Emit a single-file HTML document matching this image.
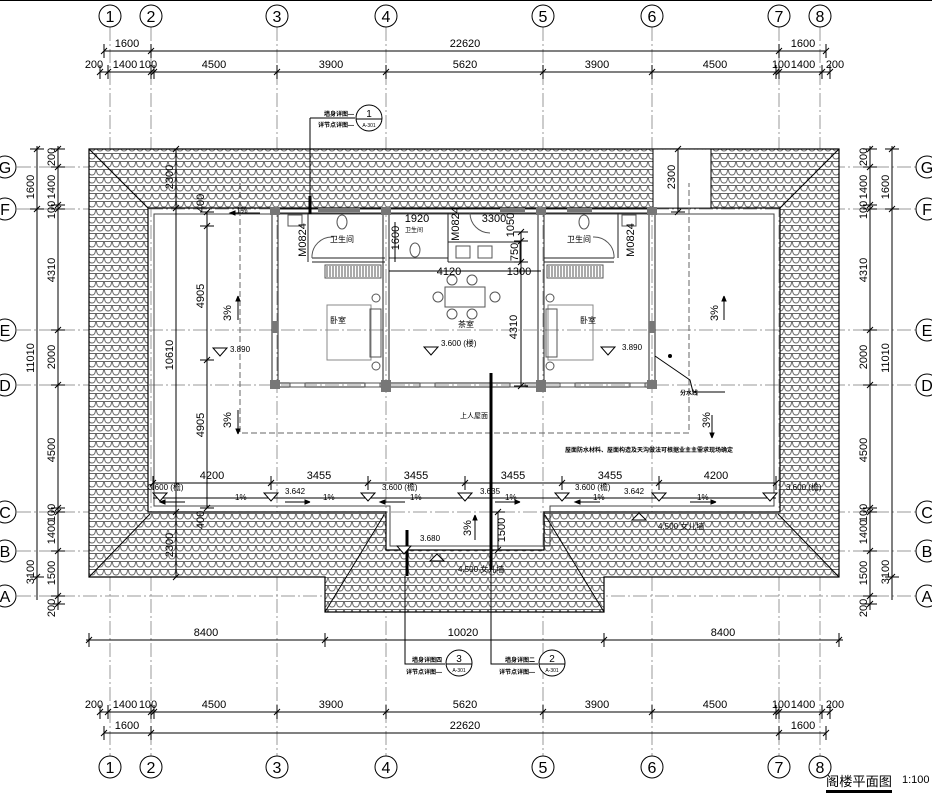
<!DOCTYPE html>
<html><head><meta charset="utf-8"><style>
html,body{margin:0;padding:0;background:#fff;}
svg{display:block;}
text{font-family:"Liberation Sans Narrow","Liberation Sans","Noto Sans CJK SC",sans-serif;fill:#000;}
.d{font-size:11px;}
.s{font-size:8px;}
.c{font-size:6px;font-weight:bold;font-family:"Liberation Sans","Noto Sans CJK SC",sans-serif;}
.g{stroke:#999;stroke-width:1;stroke-dasharray:14 3 2 3;fill:none;}
.k{stroke:#000;stroke-width:1;fill:none;}
.w{stroke:#333;stroke-width:1;fill:none;}
</style></head><body>
<svg id="sv" width="932" height="796" viewBox="0 0 932 796" xmlns="http://www.w3.org/2000/svg">
<defs>
<pattern id="tile" width="8" height="8" patternUnits="userSpaceOnUse">
<rect width="8" height="8" fill="#fff"/>
<path d="M0 1.5 H8 M0.5 1.5 Q0.5 7 4 7 Q7.5 7 7.5 1.5" stroke="#666" stroke-width="0.9" fill="none"/>
</pattern>
</defs>
<rect width="932" height="796" fill="#fff"/>
<line x1="0" y1="0.5" x2="932" y2="0.5" stroke="#000"/>

<g class="g">
<line x1="110" y1="27" x2="110" y2="756"/><line x1="151" y1="27" x2="151" y2="756"/>
<line x1="277" y1="27" x2="277" y2="756"/><line x1="386" y1="27" x2="386" y2="756"/>
<line x1="543" y1="27" x2="543" y2="756"/><line x1="652" y1="27" x2="652" y2="756"/>
<line x1="779" y1="27" x2="779" y2="756"/><line x1="820" y1="27" x2="820" y2="756"/>
<line x1="17" y1="167" x2="916" y2="167"/><line x1="17" y1="209" x2="916" y2="209"/>
<line x1="17" y1="330" x2="916" y2="330"/><line x1="17" y1="385" x2="916" y2="385"/>
<line x1="17" y1="512" x2="916" y2="512"/><line x1="17" y1="551" x2="916" y2="551"/>
<line x1="17" y1="596" x2="916" y2="596"/>
</g>

<path d="M89 149H839V577H604V612H325V577H89Z M148 208V512H386V550H544V512H780V208Z" fill="url(#tile)" fill-rule="evenodd" stroke="#000" stroke-width="1.2"/>
<rect x="653" y="149.6" width="58" height="58" fill="#fff"/>
<line x1="653" y1="149" x2="653" y2="208" stroke="#000"/><line x1="711" y1="149" x2="711" y2="208" stroke="#000"/>
<g class="k">
<line x1="89" y1="149" x2="148" y2="208"/><line x1="839" y1="149" x2="780" y2="208"/>
<line x1="89" y1="577" x2="150" y2="514"/><line x1="839" y1="577" x2="778" y2="514"/>
<line x1="325" y1="612" x2="384" y2="515"/><line x1="604" y1="612" x2="545" y2="515"/>
<path d="M154 214H774V506H550V546H390V506H154Z" stroke="#444"/>
</g>

<path d="M240 183V433H689V183" stroke="#666" stroke-dasharray="6 3" fill="none"/>

<g fill="none" stroke="#222">
<path d="M272 209H655M272 213H655M272 209V387M278 213V383M649 213V383M655 209V387M272 387H655M278 383H649"/>
<path d="M383 213V387M389 213V387M538 213V387M544 213V387"/>
<path d="M308 213V258M312 258H385M312 262H385M308 258V262"/>
<path d="M389 258H448M448 213V262M448 242H520V262H448"/>
<path d="M618 213V258M544 258H614M544 262H614"/>
</g>
<g fill="#777">
<rect x="270" y="207" width="10" height="8"/><rect x="381" y="207" width="10" height="8"/><rect x="536" y="207" width="10" height="8"/><rect x="647" y="207" width="10" height="8"/>
<rect x="270" y="380" width="10" height="9"/><rect x="381" y="380" width="10" height="12"/><rect x="536" y="380" width="10" height="12"/><rect x="647" y="380" width="10" height="9"/>
<rect x="272" y="321" width="6" height="12"/><rect x="649" y="321" width="6" height="12"/>
<rect x="318" y="208" width="22" height="4"/><rect x="335" y="208" width="25" height="4"/><rect x="500" y="208" width="25" height="4"/><rect x="567" y="208" width="25" height="4"/>
</g>
<g fill="#fff" stroke="#555">
<rect x="290" y="383" width="15" height="4"/><rect x="365" y="383" width="15" height="4"/><rect x="420" y="383" width="15" height="4"/><rect x="510" y="383" width="15" height="4"/><rect x="560" y="383" width="15" height="4"/><rect x="630" y="383" width="15" height="4"/>
</g>
<g stroke="#555" fill="none">
<rect x="325" y="265" width="56" height="13"/><rect x="547" y="265" width="56" height="13"/>
<path d="M327 266v11M330 266v11M333 266v11M336 266v11M339 266v11M342 266v11M345 266v11M348 266v11M351 266v11M354 266v11M357 266v11M360 266v11M363 266v11M366 266v11M369 266v11M372 266v11M375 266v11M378 266v11"/>
<path d="M549 266v11M552 266v11M555 266v11M558 266v11M561 266v11M564 266v11M567 266v11M570 266v11M573 266v11M576 266v11M579 266v11M582 266v11M585 266v11M588 266v11M591 266v11M594 266v11M597 266v11M600 266v11"/>
<rect x="327" y="305" width="44" height="55" stroke="#888"/><rect x="548" y="305" width="45" height="55" stroke="#888"/>
<rect x="370" y="309" width="11" height="48"/><rect x="546" y="309" width="11" height="48"/>
<circle cx="376" cy="298" r="4"/><circle cx="376" cy="366" r="4"/><circle cx="550" cy="298" r="4"/><circle cx="550" cy="366" r="4"/>
<rect x="445" y="287" width="40" height="20"/>
<circle cx="452" cy="280" r="5"/><circle cx="472" cy="280" r="5"/><circle cx="452" cy="314" r="5"/><circle cx="472" cy="314" r="5"/><circle cx="438" cy="297" r="5"/><circle cx="495" cy="297" r="5"/>
<rect x="288" y="215" width="14" height="11"/><rect x="622" y="215" width="14" height="11"/>
<ellipse cx="342" cy="222" rx="5" ry="7"/><ellipse cx="584" cy="222" rx="5" ry="7"/><ellipse cx="415" cy="250" rx="5" ry="7"/>
<rect x="456" y="246" width="14" height="12"/><rect x="478" y="246" width="14" height="12"/>
<path d="M312 258A20 20 0 0 1 333 237M614 258A20 20 0 0 0 593 237M470 213A20 20 0 0 0 490 233"/>
</g>

<g stroke="#000" fill="none">
<path d="M310 118H355M310 118V212"/><line x1="310" y1="196" x2="310" y2="214" stroke-width="3"/>
<circle cx="369" cy="118" r="13" fill="#fff"/><line x1="356" y1="119" x2="382" y2="119"/>
<line x1="491" y1="373" x2="491" y2="570" stroke-width="3"/><path d="M491 570V664H538"/>
<line x1="407" y1="530" x2="407" y2="576" stroke-width="3"/><path d="M405 576V664H445"/>
<circle cx="459" cy="663" r="13" fill="#fff"/><line x1="446" y1="664" x2="472" y2="664"/>
<circle cx="552" cy="663" r="13" fill="#fff"/><line x1="539" y1="664" x2="565" y2="664"/>
<path d="M655 356L690 380L693 392H725"/>
</g>
<circle cx="670" cy="356" r="2"/>

<g class="k">
<line x1="153" y1="483" x2="776" y2="483"/><line x1="153" y1="498" x2="776" y2="498"/>
</g>
<g stroke="#000" fill="#fff">
<path d="M153 493h14l-7 8z"/><path d="M264 493h14l-7 8z"/><path d="M361 493h14l-7 8z"/><path d="M458 493h14l-7 8z"/><path d="M555 493h14l-7 8z"/><path d="M652 493h14l-7 8z"/><path d="M763 493h14l-7 8z"/>
<path d="M397 546h14l-7 8z"/><path d="M424 347h14l-7 8z"/><path d="M601 347h14l-7 8z"/><path d="M213 348h14l-7 8z"/>
<path d="M430 561h14l-7 -7z"/><path d="M632 520h14l-7 -7z"/>
</g>

<g class="k" id="dims">
<line x1="104" y1="51" x2="826" y2="51"/><line x1="100" y1="72" x2="830" y2="72"/>
<line x1="104" y1="733" x2="826" y2="733"/><line x1="100" y1="712" x2="830" y2="712"/>
<line x1="86" y1="640" x2="843" y2="640"/>
<line x1="37" y1="146" x2="37" y2="600"/><line x1="58" y1="146" x2="58" y2="610"/>
<line x1="892" y1="146" x2="892" y2="600"/><line x1="870" y1="146" x2="870" y2="610"/>
<line x1="176" y1="149" x2="176" y2="577"/><line x1="678" y1="149" x2="678" y2="212"/>
<line x1="207" y1="212" x2="207" y2="508"/><line x1="521" y1="232" x2="521" y2="386"/>
<line x1="389" y1="271" x2="541" y2="271"/><line x1="395" y1="222" x2="395" y2="262"/>
<line x1="498" y1="512" x2="498" y2="550"/>
</g>

<g fill="#fff" stroke="#000">
<circle cx="110" cy="16" r="11"/><circle cx="151" cy="16" r="11"/><circle cx="277" cy="16" r="11"/><circle cx="386" cy="16" r="11"/><circle cx="543" cy="16" r="11"/><circle cx="652" cy="16" r="11"/><circle cx="779" cy="16" r="11"/><circle cx="820" cy="16" r="11"/>
<circle cx="110" cy="767" r="11"/><circle cx="151" cy="767" r="11"/><circle cx="277" cy="767" r="11"/><circle cx="386" cy="767" r="11"/><circle cx="543" cy="767" r="11"/><circle cx="652" cy="767" r="11"/><circle cx="779" cy="767" r="11"/><circle cx="820" cy="767" r="11"/>
<circle cx="5" cy="167" r="11"/><circle cx="5" cy="209" r="11"/><circle cx="5" cy="330" r="11"/><circle cx="5" cy="385" r="11"/><circle cx="5" cy="512" r="11"/><circle cx="5" cy="551" r="11"/><circle cx="5" cy="596" r="11"/>
<circle cx="927" cy="167" r="11"/><circle cx="927" cy="209" r="11"/><circle cx="927" cy="330" r="11"/><circle cx="927" cy="385" r="11"/><circle cx="927" cy="512" r="11"/><circle cx="927" cy="551" r="11"/><circle cx="927" cy="596" r="11"/>
</g>
<g font-size="16" text-anchor="middle" style="font-family:'Liberation Sans',sans-serif">
<text x="110" y="22">1</text><text x="151" y="22">2</text><text x="277" y="22">3</text><text x="386" y="22">4</text><text x="543" y="22">5</text><text x="652" y="22">6</text><text x="779" y="22">7</text><text x="820" y="22">8</text>
<text x="110" y="773">1</text><text x="151" y="773">2</text><text x="277" y="773">3</text><text x="386" y="773">4</text><text x="543" y="773">5</text><text x="652" y="773">6</text><text x="779" y="773">7</text><text x="820" y="773">8</text>
</g>
<g font-size="16" text-anchor="middle" style="font-family:'Liberation Serif',serif">
<text x="5" y="173">G</text><text x="5" y="215">F</text><text x="5" y="336">E</text><text x="5" y="391">D</text><text x="5" y="518">C</text><text x="5" y="557">B</text><text x="5" y="602">A</text>
<text x="927" y="173">G</text><text x="927" y="215">F</text><text x="927" y="336">E</text><text x="927" y="391">D</text><text x="927" y="518">C</text><text x="927" y="557">B</text><text x="927" y="602">A</text>
</g>

<g class="d" text-anchor="middle">
<text x="127" y="47">1600</text><text x="465" y="47">22620</text><text x="803" y="47">1600</text>
<text x="94" y="68">200</text><text x="125" y="68">1400</text><text x="148" y="68">100</text><text x="214" y="68">4500</text><text x="331" y="68">3900</text><text x="465" y="68">5620</text><text x="597" y="68">3900</text><text x="715" y="68">4500</text><text x="781" y="68">100</text><text x="803" y="68">1400</text><text x="835" y="68">200</text>
<text x="94" y="708">200</text><text x="125" y="708">1400</text><text x="148" y="708">100</text><text x="214" y="708">4500</text><text x="331" y="708">3900</text><text x="465" y="708">5620</text><text x="597" y="708">3900</text><text x="715" y="708">4500</text><text x="781" y="708">100</text><text x="803" y="708">1400</text><text x="835" y="708">200</text>
<text x="127" y="729">1600</text><text x="465" y="729">22620</text><text x="803" y="729">1600</text>
<text x="206" y="636">8400</text><text x="463" y="636">10020</text><text x="723" y="636">8400</text>
<text x="212" y="479">4200</text><text x="319" y="479">3455</text><text x="416" y="479">3455</text><text x="513" y="479">3455</text><text x="610" y="479">3455</text><text x="716" y="479">4200</text>
<text x="417" y="222">1920</text><text x="494" y="222">3300</text><text x="449" y="275">4120</text><text x="519" y="275">1300</text>
</g>
<g class="d" text-anchor="middle">
<text transform="translate(34,187) rotate(-90)">1600</text><text transform="translate(34,358) rotate(-90)">11010</text><text transform="translate(34,572) rotate(-90)">3100</text>
<text transform="translate(55,157) rotate(-90)">200</text><text transform="translate(55,187) rotate(-90)">1400</text><text transform="translate(55,210) rotate(-90)">100</text><text transform="translate(55,270) rotate(-90)">4310</text><text transform="translate(55,357) rotate(-90)">2000</text><text transform="translate(55,450) rotate(-90)">4500</text><text transform="translate(55,513) rotate(-90)">100</text><text transform="translate(55,532) rotate(-90)">1400</text><text transform="translate(55,573) rotate(-90)">1500</text><text transform="translate(55,608) rotate(-90)">200</text>
<text transform="translate(889,187) rotate(-90)">1600</text><text transform="translate(889,358) rotate(-90)">11010</text><text transform="translate(889,572) rotate(-90)">3100</text>
<text transform="translate(867,157) rotate(-90)">200</text><text transform="translate(867,187) rotate(-90)">1400</text><text transform="translate(867,210) rotate(-90)">100</text><text transform="translate(867,270) rotate(-90)">4310</text><text transform="translate(867,357) rotate(-90)">2000</text><text transform="translate(867,450) rotate(-90)">4500</text><text transform="translate(867,513) rotate(-90)">100</text><text transform="translate(867,532) rotate(-90)">1400</text><text transform="translate(867,573) rotate(-90)">1500</text><text transform="translate(867,608) rotate(-90)">200</text>
<text transform="translate(173,177) rotate(-90)">2300</text><text transform="translate(173,355) rotate(-90)">10610</text><text transform="translate(173,545) rotate(-90)">2300</text>
<text transform="translate(204,203) rotate(-90)">400</text><text transform="translate(204,296) rotate(-90)">4905</text><text transform="translate(204,425) rotate(-90)">4905</text><text transform="translate(204,520) rotate(-90)">400</text>
<text transform="translate(675,177) rotate(-90)">2300</text>
<text transform="translate(399,238) rotate(-90)">1600</text><text transform="translate(514,225) rotate(-90)">1050</text><text transform="translate(518,252) rotate(-90)">750</text><text transform="translate(517,327) rotate(-90)">4310</text>
<text transform="translate(306,240) rotate(-90)">M0824</text><text transform="translate(459,224) rotate(-90)">M0824</text><text transform="translate(634,240) rotate(-90)">M0824</text>
<text transform="translate(505,530) rotate(-90)">1500</text>
<text transform="translate(231,313) rotate(-90)">3%</text><text transform="translate(231,420) rotate(-90)">3%</text><text transform="translate(718,313) rotate(-90)">3%</text><text transform="translate(471,528) rotate(-90)">3%</text><text transform="translate(710,420) rotate(-90)">3%</text>
</g>
<g class="s">
<text x="230" y="352">3.890</text><text x="622" y="350">3.890</text><text x="441" y="346">3.600 (楼)</text>
<text x="148" y="490">3.600 (檐)</text><text x="285" y="494">3.642</text><text x="382" y="490">3.600 (檐)</text><text x="480" y="494">3.635</text><text x="575" y="490">3.600 (檐)</text><text x="624" y="494">3.642</text><text x="786" y="490">3.600 (檐)</text>
<text x="420" y="541">3.680</text><text x="458" y="572">4.500 女儿墙</text><text x="658" y="529">4.500 女儿墙</text>
<text x="236" y="213">1%</text><text x="235" y="500">1%</text><text x="323" y="500">1%</text><text x="410" y="500">1%</text><text x="505" y="500">1%</text><text x="593" y="500">1%</text><text x="697" y="500">1%</text>
<text x="330" y="323" fill="#444">卧室</text><text x="580" y="323" fill="#444">卧室</text><text x="458" y="327" fill="#444">茶室</text>
<text x="330" y="242" fill="#444">卫生间</text><text x="567" y="242" fill="#444">卫生间</text><text x="405" y="232" font-size="6" fill="#444">卫生间</text>
<text x="460" y="418" fill="#444" font-size="7">上人屋面</text>
<text x="680" y="395" class="c" font-size="7">分水线</text>
</g>
<text x="565" y="452" class="c" font-size="8">屋面防水材料、屋面构造及天沟做法可根据业主主需求现场确定</text>
<g class="c">
<text x="324" y="116">墙身详图—</text><text x="318" y="127">详节点详图—</text>
<text x="412" y="662">墙身详图四</text><text x="406" y="674">详节点详图—</text>
<text x="505" y="662">墙身详图二</text><text x="499" y="674">详节点详图—</text>
</g>
<g text-anchor="middle" style="font-family:'Liberation Sans',sans-serif">
<text x="369" y="117" font-size="10">1</text><text x="369" y="127" font-size="5">A-301</text>
<text x="459" y="662" font-size="10">3</text><text x="459" y="672" font-size="5">A-301</text>
<text x="552" y="662" font-size="10">2</text><text x="552" y="672" font-size="5">A-301</text>
</g>
<g stroke="#000" fill="#000">
<path d="M230 213H260M230 213l5 -2v4z"/>
<path d="M160 502H185M160 502l5-2v4z"/><path d="M285 502H310l-5-2v4l5-2"/><path d="M380 502H405M380 502l5-2v4z"/><path d="M495 502H520l-5-2v4l5-2"/><path d="M575 502H600M575 502l5-2v4z"/><path d="M690 502H716l-5-2v4l5-2"/>
<path d="M238 320V296l-2 5h4l-2-5"/><path d="M238 410V434l-2-5h4l-2 5"/><path d="M724 320V296l-2 5h4l-2-5"/><path d="M475 540V515l-2 5h4l-2-5"/><path d="M712 415V438l-2-5h4l-2 5"/>
</g>
<text x="826" y="786" font-size="13" textLength="66" lengthAdjust="spacingAndGlyphs" style="font-family:'Noto Sans CJK SC',sans-serif">阁楼平面图</text>
<rect x="826" y="790" width="66" height="3" fill="#000"/>
<text x="902" y="783" font-size="11" style="font-family:'Liberation Sans',sans-serif">1:100</text>

<script>
(function(){
var s=document.getElementById('sv'),ns='http://www.w3.org/2000/svg',d='';
function hx(y,xs){xs.forEach(function(x){d+='M'+(x-3)+' '+(y+3)+'L'+(x+3)+' '+(y-3)+'M'+x+' '+(y-7)+'V'+(y+7);});}
function vy(x,ys){ys.forEach(function(y){d+='M'+(x-3)+' '+(y+3)+'L'+(x+3)+' '+(y-3)+'M'+(x-7)+' '+y+'H'+(x+7);});}
hx(51,[104,151,779,826]);hx(72,[100,108,151,154,277,386,543,652,776,779,822,830]);
hx(733,[104,151,779,826]);hx(712,[100,108,151,154,277,386,543,652,776,779,822,830]);
hx(640,[89,325,604,839]);hx(483,[153,271,368,465,562,659,776]);
vy(37,[149,209,577]);vy(58,[149,167,205,209,330,385,508,512,551,596,604]);
vy(892,[149,209,577]);vy(870,[149,167,205,209,330,385,508,512,551,596,604]);
vy(176,[149,208,512,577]);vy(207,[212,226,360,508]);vy(678,[149,212]);vy(521,[232,241,262,386]);vy(498,[512,550]);
var p=document.createElementNS(ns,'path');p.setAttribute('d',d);p.setAttribute('stroke','#000');p.setAttribute('fill','none');s.appendChild(p);
})();
</script>
</svg>
</body></html>
